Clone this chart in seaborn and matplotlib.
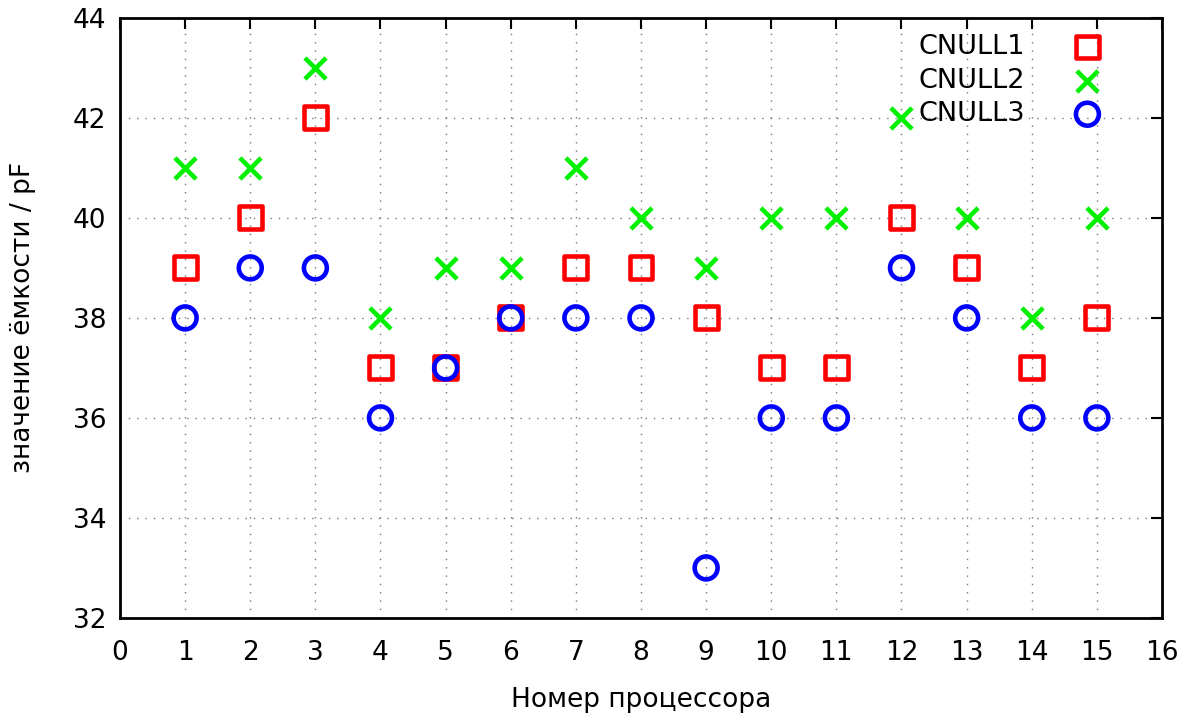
import pandas as pd
import matplotlib
matplotlib.use("Agg")
import matplotlib.pyplot as plt
import seaborn as sns

# values
processors = list(range(1, 16))
cnull1 = [39, 40, 42, 37, 37, 38, 39, 39, 38, 37, 37, 40, 39, 37, 38]
cnull2 = [41, 41, 43, 38, 39, 39, 41, 40, 39, 40, 40, 42, 40, 38, 40]
cnull3 = [38, 39, 39, 36, 37, 38, 38, 38, 33, 36, 36, 39, 38, 36, 36]

df = pd.DataFrame({"proc": processors, "CNULL1": cnull1,
                   "CNULL2": cnull2, "CNULL3": cnull3})

sns.set_style("white")
plt.rcParams["font.family"] = ["DejaVu Sans"]
plt.rcParams["font.size"] = 19
plt.rcParams["text.color"] = "black"
plt.rcParams["axes.labelcolor"] = "black"

fig = plt.figure(figsize=(11.94, 7.16), dpi=100)
ax = fig.add_axes([0.1005, 0.137, 0.8727, 0.838])

ms = 16.5 ** 2
sns.scatterplot(data=df, x="proc", y="CNULL1", marker="s", s=ms,
                color="#ff0000", facecolor="none", edgecolor="#ff0000",
                linewidth=3.3, label="CNULL1", ax=ax, zorder=3)
sns.scatterplot(data=df, x="proc", y="CNULL2", marker="x", s=ms * 0.85,
                color="#00f000", linewidth=3.3, label="CNULL2", ax=ax, zorder=3)
sns.scatterplot(data=df, x="proc", y="CNULL3", marker="o", s=ms,
                color="#0000ff", facecolor="none", edgecolor="#0000ff",
                linewidth=3.3, label="CNULL3", ax=ax, zorder=3)

ax.set_xlim(0, 16)
ax.set_ylim(32, 44)
ax.set_xticks(range(0, 17))
ax.set_yticks(range(32, 45, 2))
ax.grid(True, linestyle=(0, (1, 5)), color="#777777", linewidth=1)
ax.tick_params(direction="in", length=8, width=1.5, top=True, right=True,
               labelsize=19, colors="black")
ax.tick_params(axis="x", pad=16)
ax.tick_params(axis="y", pad=10)
for sp in ax.spines.values():
    sp.set_linewidth(2)
    sp.set_color("black")

ax.set_xlabel("Номер процессора", fontsize=19, labelpad=15)
ax.set_ylabel("значение ёмкости / pF", fontsize=19, labelpad=26)

ax.legend(loc="upper right", markerfirst=False, frameon=False, fontsize=19.5,
          handletextpad=1.3, borderaxespad=0.2, labelspacing=0.28,
          bbox_to_anchor=(0.97, 1.0))

fig.savefig("out.png", dpi=100)
